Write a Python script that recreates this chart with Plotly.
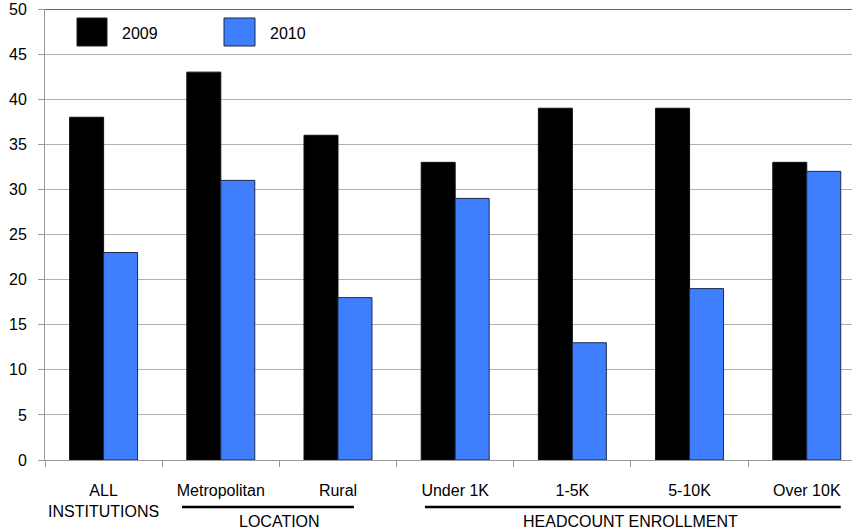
import plotly.graph_objects as go

# Category labels and values
categories = ["ALL<br>INSTITUTIONS", "Metropolitan", "Rural", "Under 1K", "1-5K", "5-10K", "Over 10K"]
values_2009 = [38, 43, 36, 33, 39, 39, 33]
values_2010 = [23, 31, 18, 29, 13, 19, 32]
y_ticks = [0, 5, 10, 15, 20, 25, 30, 35, 40, 45, 50]

BLACK = "#000000"
BLUE = "#3F7FFF"
FONT = "Liberation Sans, Arial, sans-serif"

fig = go.Figure()
fig.add_trace(go.Bar(x=categories, y=values_2009, name="2009",
                     marker=dict(color=BLACK, line=dict(color="#111111", width=1))))
fig.add_trace(go.Bar(x=categories, y=values_2010, name="2010",
                     marker=dict(color=BLUE, line=dict(color="#1b2a4a", width=1))))

# Plot area geometry (paper <-> pixels) for the custom legend and group labels
L, T, W, H = 45, 9, 807, 451


def px(x):
    return (x - L) / W


def py(y):
    return (T + H - y) / H


shapes = [
    # dark top border at 50
    dict(type="line", xref="paper", yref="y", x0=0, x1=1, y0=50, y1=50,
         line=dict(color="#333333", width=1.5)),
    # legend swatches
    dict(type="rect", xref="paper", yref="paper", x0=px(77), x1=px(107), y0=py(46), y1=py(18),
         fillcolor=BLACK, line=dict(color="#222222", width=1)),
    dict(type="rect", xref="paper", yref="paper", x0=px(224), x1=px(255), y0=py(46), y1=py(18),
         fillcolor=BLUE, line=dict(color="#1b2a4a", width=1)),
    # group underlines
    dict(type="line", xref="x", yref="paper", x0=0.669, x1=2.136, y0=py(507), y1=py(507),
         line=dict(color="#000000", width=2.5)),
    dict(type="line", xref="x", yref="paper", x0=2.742, x1=6.29, y0=py(507), y1=py(507),
         line=dict(color="#000000", width=2.5)),
]

annotations = [
    dict(text="2009", xref="paper", yref="paper", x=px(120), y=py(33), xanchor="left",
         yanchor="middle", showarrow=False, font=dict(size=16, color="#000000", family=FONT)),
    dict(text="2010", xref="paper", yref="paper", x=px(268), y=py(33), xanchor="left",
         yanchor="middle", showarrow=False, font=dict(size=16, color="#000000", family=FONT)),
    dict(text="LOCATION", xref="x", yref="paper", x=1.5, y=py(521), xanchor="center",
         yanchor="middle", showarrow=False, font=dict(size=16, color="#000000", family=FONT)),
    dict(text="HEADCOUNT ENROLLMENT", xref="x", yref="paper", x=4.5, y=py(521), xanchor="center",
         yanchor="middle", showarrow=False, font=dict(size=16, color="#000000", family=FONT)),
]

fig.update_layout(
    width=852, height=531,
    margin=dict(l=L, r=0, t=T, b=531 - T - H, pad=0, autoexpand=False),
    paper_bgcolor="white", plot_bgcolor="white",
    barmode="group", bargap=0.42, bargroupgap=0,
    showlegend=False,
    font=dict(family=FONT, size=16, color="#000000"),
    shapes=shapes, annotations=annotations,
)

fig.update_xaxes(
    type="category", range=[-0.5, 6.386], automargin=False, tickangle=0,
    tickson="boundaries", ticks="outside", ticklen=6, tickcolor="#999999", tickwidth=1,
    showline=True, linecolor="#999999", linewidth=1,
    showgrid=False, ticklabelstandoff=16,
    tickfont=dict(size=16, family=FONT, color="#000000"),
)
fig.update_yaxes(
    range=[0, 50], tickvals=y_ticks, ticks="outside", ticklen=6, tickcolor="#999999",
    automargin=False, ticklabeloverflow="allow",
    showline=True, linecolor="#999999", linewidth=1,
    showgrid=True, gridcolor="#b0b0b0", gridwidth=1, zeroline=False,
    ticklabelstandoff=8,
    tickfont=dict(size=16, family=FONT, color="#000000"),
)

fig.write_html("out.html")
